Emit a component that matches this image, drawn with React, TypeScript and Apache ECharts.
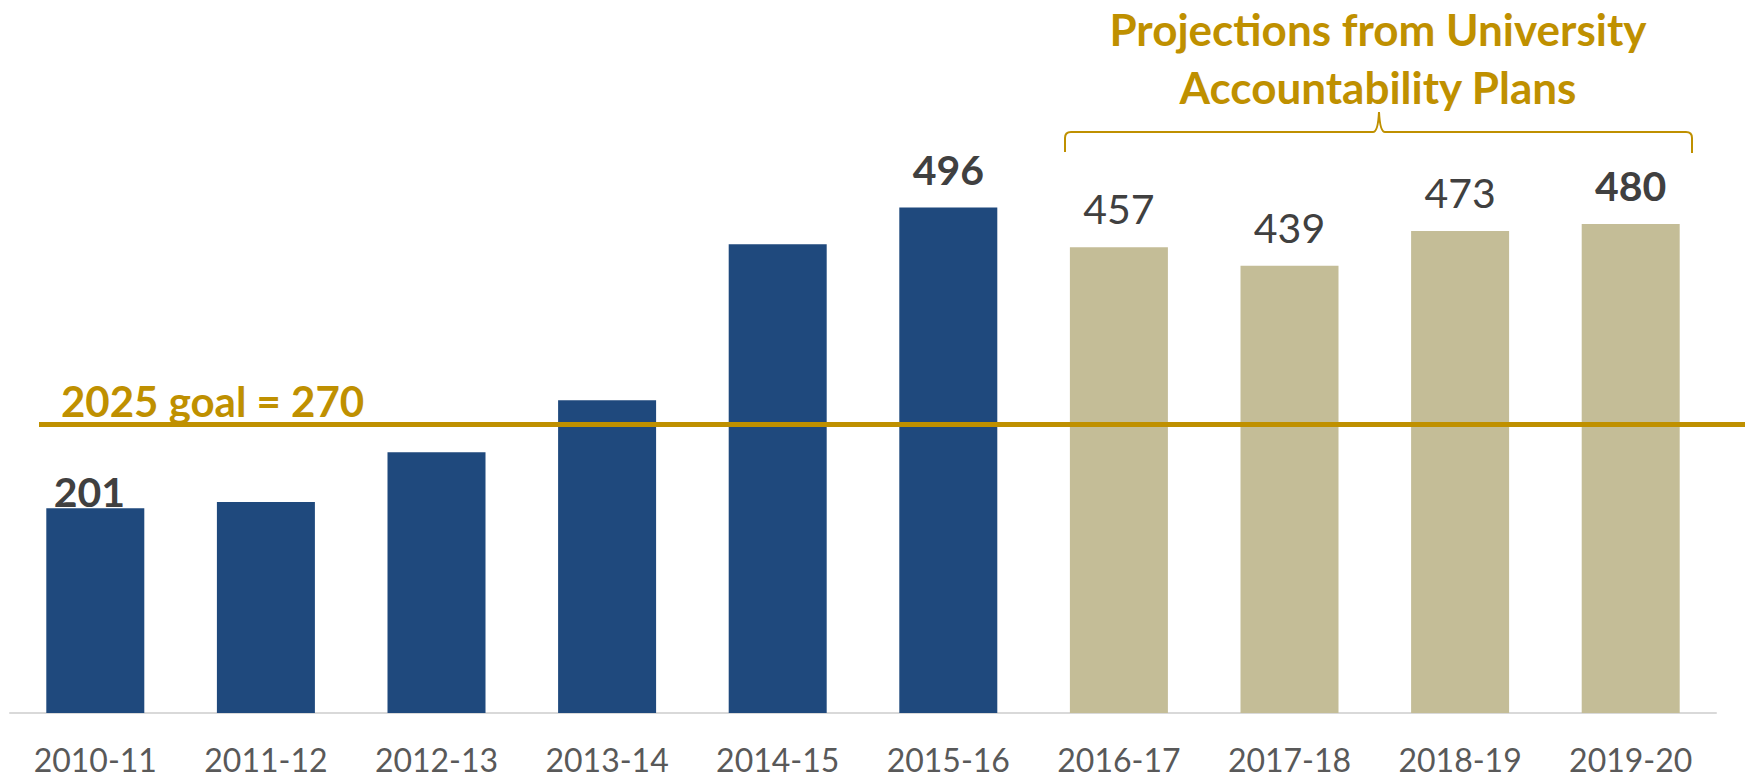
import React, { useEffect, useRef } from "react";
import * as echarts from "echarts";

const categories = ["2010-11", "2011-12", "2012-13", "2013-14", "2014-15", "2015-16", "2016-17", "2017-18", "2018-19", "2019-20"];
const actualValues = [201, 207, 256, 307, 460, 496, null, null, null, null];
const projectedValues = [null, null, null, null, null, null, 457, 439, 473, 480];
const boldLabels = ["2010-11", "2015-16", "2019-20"];
const hiddenLabels = ["2011-12", "2012-13", "2013-14", "2014-15"];
const goalValue = 270;
const goalLinePosition = 283;
const yMax = 600;
const projectionTitle = ["Projections from University", "Accountability Plans"];

const BLUE = "#1F497D";
const TAN = "#C4BD97";
const GOLD = "#BF9000";
const FONT = "Lato";

echarts.graphic.registerShape(
  "brace",
  echarts.graphic.extendPath(
    "M1065 152 L1065 138 Q1065 132 1071 132 L1373 132 Q1378 132 1379 112 Q1380 132 1385 132 L1686 132 Q1692 132 1692 138 L1692 153",
    {}
  )
);

export default function App() {
  const ref = useRef<HTMLDivElement>(null);
  useEffect(() => {
    if (!ref.current) return;
    const chart = echarts.init(ref.current, undefined, { renderer: "svg" });
    const data = categories.map((c, i) => {
      const isActual = actualValues[i] != null;
      const v = isActual ? actualValues[i] : projectedValues[i];
      const bold = boldLabels.includes(c);
      const isFirst = i === 0;
      return {
        value: v,
        itemStyle: { color: isActual ? BLUE : TAN },
        label: {
          show: !hiddenLabels.includes(c),
          fontWeight: bold ? "bold" : "normal",
          distance: isFirst ? -4 : 18,
          offset: isFirst ? [-6, 0] : [0, 0],
        },
      };
    });
    chart.setOption({
      animation: false,
      grid: { left: 10, right: 29, top: 101.6, bottom: 66, containLabel: false },
      xAxis: {
        type: "category",
        data: categories,
        axisLine: { show: true, lineStyle: { color: "#D9D9D9", width: 2 } },
        axisTick: { show: false },
        axisLabel: { color: "#595959", fontSize: 32, fontFamily: FONT, margin: 30, interval: 0 },
      },
      yAxis: { type: "value", min: 0, max: yMax, show: false, splitLine: { show: false } },
      series: [
        {
          type: "bar",
          data,
          barWidth: 98,
          label: {
            show: true,
            position: "top",
            color: "#404040",
            fontSize: 41,
            lineHeight: 41,
            fontFamily: FONT,
          },
          markLine: {
            silent: true,
            symbol: "none",
            label: { show: false },
            lineStyle: { color: GOLD, width: 5, type: "solid" },
            data: [[{ x: 39, yAxis: goalLinePosition }, { x: 1745, yAxis: goalLinePosition }]],
          },
        },
      ],
      graphic: [
        {
          type: "text",
          left: 61,
          top: 380,
          style: {
            text: `2025 goal = ${goalValue}`,
            fill: GOLD,
            font: `bold 42px ${FONT}`,
          },
        },
        {
          type: "text",
          x: 1378,
          y: 28.5,
          style: {
            text: projectionTitle[0],
            fill: GOLD,
            font: `bold 44px ${FONT}`,
            align: "center",
            verticalAlign: "middle",
          },
        },
        {
          type: "text",
          x: 1378,
          y: 86.5,
          style: {
            text: projectionTitle[1],
            fill: GOLD,
            font: `bold 44px ${FONT}`,
            align: "center",
            verticalAlign: "middle",
          },
        },
        {
          type: "brace",
          x: 0,
          y: 0,
          style: { fill: "none", stroke: GOLD, lineWidth: 2 },
        },
      ],
    });
    return () => chart.dispose();
  }, []);
  return <div ref={ref} style={{ position: "absolute", left: 0, top: 0, width: 1745, height: 779 }} />;
}
